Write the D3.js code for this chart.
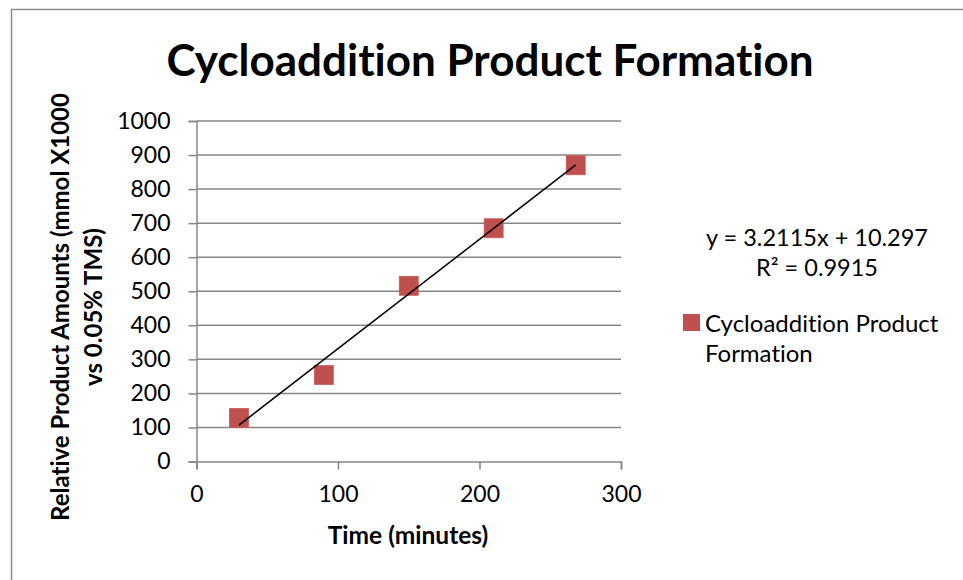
<!DOCTYPE html>
<html>
<head>
<meta charset="utf-8">
<script src="https://cdn.jsdelivr.net/npm/d3@7"></script>
<style>
  html, body { margin: 0; padding: 0; background: #fff; }
  svg { display: block; }
  text { font-family: Lato, "Open Sans", sans-serif; fill: #000; font-variant-ligatures: none; }
</style>
</head>
<body>
<svg id="chart" width="963" height="580"></svg>
<script>
const chartTitle = "Cycloaddition Product Formation";
const seriesName = "Cycloaddition Product Formation";
const xTitle = "Time (minutes)";
const yTitleLines = ["Relative Product Amounts (mmol X1000", "vs 0.05% TMS)"];
const timeMinutes = [30, 90, 150, 210, 268];
const productAmounts = [128, 254, 516, 685, 870];
const xTicks = [0, 100, 200, 300];
const yTicks = [0, 100, 200, 300, 400, 500, 600, 700, 800, 900, 1000];
const trendSlope = 3.2115;
const trendIntercept = 10.297;
const equationLines = ["y = 3.2115x + 10.297", "R² = 0.9915"];
const legendLines = ["Cycloaddition Product", "Formation"];

const svg = d3.select("#chart");
const plot = { left: 196.5, right: 621, top: 121, bottom: 461.5 };
const x = d3.scaleLinear().domain([0, 300]).range([plot.left, plot.right]);
const y = d3.scaleLinear().domain([0, 1000]).range([plot.bottom, plot.top]);
const gridColor = "#868686";
const markColor = "#c0504d";

// outer frame (top and left edges visible)
svg.append("path")
  .attr("d", "M11.5,580 L11.5,9.5 L963,9.5")
  .attr("fill", "none").attr("stroke", "#8c8c8c").attr("stroke-width", 1.5);

// title
svg.append("text")
  .attr("x", 490).attr("y", 76)
  .attr("text-anchor", "middle")
  .attr("font-weight", "bold").attr("font-size", 44)
  .text(chartTitle);

// gridlines
svg.append("g").selectAll("line").data(yTicks.filter(d => d > 0)).join("line")
  .attr("x1", plot.left).attr("x2", plot.right)
  .attr("y1", d => y(d)).attr("y2", d => y(d))
  .attr("stroke", gridColor).attr("stroke-width", 1.5);

// y axis
const yAxis = d3.axisLeft(y).tickValues(yTicks).tickSize(8).tickPadding(18).tickFormat(d3.format("d"));
const gy = svg.append("g").attr("transform", `translate(${plot.left},0)`).call(yAxis);
gy.select(".domain").attr("stroke", gridColor).attr("stroke-width", 1.5);
gy.selectAll(".tick line").attr("stroke", gridColor).attr("stroke-width", 1.5);
gy.selectAll(".tick text").attr("font-size", 23).attr("font-family", "Lato, sans-serif").attr("fill", "#000");

// x axis
const xAxis = d3.axisBottom(x).tickValues(xTicks).tickSize(8).tickPadding(16).tickFormat(d3.format("d"));
const gx = svg.append("g").attr("transform", `translate(0,${plot.bottom})`).call(xAxis);
gx.select(".domain").attr("stroke", gridColor).attr("stroke-width", 1.5);
gx.selectAll(".tick line").attr("stroke", gridColor).attr("stroke-width", 1.5);
gx.selectAll(".tick text").attr("font-size", 23).attr("font-family", "Lato, sans-serif").attr("fill", "#000");

// axis titles
svg.append("text")
  .attr("x", 408).attr("y", 544)
  .attr("text-anchor", "middle").attr("font-weight", "bold").attr("font-size", 24.5)
  .text(xTitle);

const yt = svg.append("text")
  .attr("transform", "translate(69,307) rotate(-90)")
  .attr("text-anchor", "middle").attr("font-weight", "bold").attr("font-size", 24);
yTitleLines.forEach((t, i) => {
  yt.append("tspan").attr("x", 0).attr("dy", i === 0 ? 0 : 33).text(t);
});

// markers
const sz = 19;
const pts = timeMinutes.map((t, i) => ({ t, v: productAmounts[i] }));
svg.append("g").selectAll("rect").data(pts).join("rect")
  .attr("x", d => x(d.t) - sz / 2).attr("y", d => y(d.v) - sz / 2)
  .attr("width", sz).attr("height", sz)
  .attr("fill", markColor).attr("stroke", "#c65c59").attr("stroke-width", 0.8);

// trendline
const tMin = d3.min(timeMinutes), tMax = d3.max(timeMinutes);
svg.append("line")
  .attr("x1", x(tMin)).attr("y1", y(trendSlope * tMin + trendIntercept))
  .attr("x2", x(tMax)).attr("y2", y(trendSlope * tMax + trendIntercept))
  .attr("stroke", "#000").attr("stroke-width", 1.5);

// equation
equationLines.forEach((t, i) => {
  svg.append("text")
    .attr("x", 817).attr("y", 246 + i * 30)
    .attr("text-anchor", "middle").attr("font-size", 23.5)
    .text(t);
});

// legend
svg.append("rect").attr("x", 683).attr("y", 314).attr("width", 17).attr("height", 17)
  .attr("fill", markColor);
legendLines.forEach((t, i) => {
  svg.append("text").attr("x", 705).attr("y", 332 + i * 30).attr("font-size", 24).text(t);
});
</script>
</body>
</html>
